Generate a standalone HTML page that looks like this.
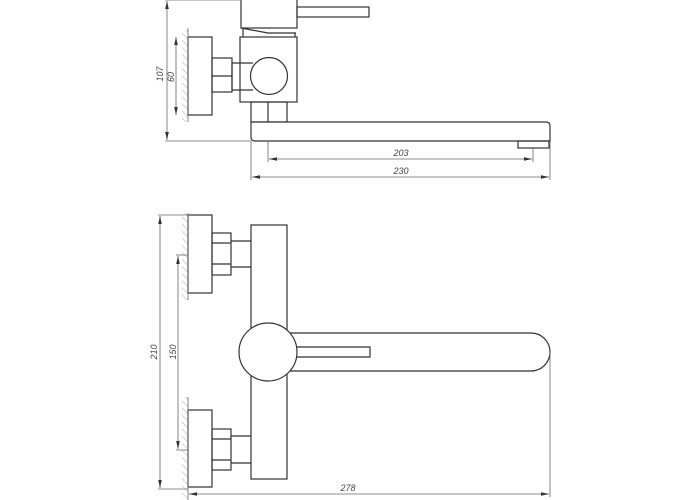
<!DOCTYPE html>
<html><head><meta charset="utf-8"><style>html,body{margin:0;padding:0;background:#fff}svg{display:block}</style></head>
<body>
<svg width="700" height="500" viewBox="0 0 700 500" xmlns="http://www.w3.org/2000/svg">
<defs>
<pattern id="h" patternUnits="userSpaceOnUse" width="5" height="5" patternTransform="rotate(-45)">
<line x1="0" y1="0" x2="0" y2="5" stroke="#999" stroke-width="0.8"/>
</pattern>
<marker id="a" markerWidth="8" markerHeight="6" refX="8" refY="3" orient="auto-start-reverse" markerUnits="userSpaceOnUse">
<path d="M0,1.2 L8,3 L0,4.8 Z" fill="#333"/></marker>
</defs>
<g fill="none" stroke="#333" stroke-width="1.2">
<!-- TOP VIEW -->
<rect x="241" y="-2" width="56" height="30" fill="#fff"/>
<rect x="297" y="7" width="72" height="10"/>
<path d="M241,28 L268,33 L296,33 M243,29 L243,37 M295,33 L295,37"/>
<rect x="240" y="37" width="57" height="65"/>
<circle cx="269" cy="76" r="18.5" fill="#fff"/>
<rect x="188" y="37" width="24" height="78"/>
<rect x="212" y="58" width="20" height="34"/>
<line x1="212" y1="76" x2="232" y2="76"/>
<path d="M232,63 L253,63 M232,90 L253,90 M232,63 L232,90"/>
<rect x="251" y="102" width="36" height="20"/>
<line x1="268" y1="102" x2="268" y2="122"/>
<path d="M251,122 L546,122 Q550,122 550,126 L550,141 L255,141 Q251,141 251,137 Z" fill="#fff"/>
<rect x="518" y="141" width="31" height="7"/>
<!-- BOTTOM VIEW -->
<rect x="188" y="215" width="24" height="78"/>
<rect x="212" y="233" width="19" height="42"/>
<path d="M212,243 L231,243 M212,264 L231,264"/>
<path d="M231,241 L251,241 Q254,254 251,267 L231,267"/>
<rect x="188" y="410" width="24" height="77"/>
<rect x="212" y="429" width="19" height="41"/>
<path d="M212,439 L231,439 M212,460 L231,460"/>
<path d="M231,436 L251,436 Q254,449 251,463 L231,463"/>
<rect x="251" y="225" width="36" height="254" fill="#fff"/>
<path d="M290,333 L531,333 A19,19 0 0 1 531,371 L290,371" fill="#fff"/>
<circle cx="268" cy="352" r="29" fill="#fff"/>
<path d="M297,347 L370,347 L370,357 L297,357"/>
</g>
<!-- hatching & wall lines -->
<g>
<rect x="182" y="30" width="6" height="92" fill="url(#h)"/>
<rect x="182" y="213" width="6" height="87" fill="url(#h)"/>
<rect x="182" y="397" width="6" height="103" fill="url(#h)"/>
</g>
<g stroke="#666" stroke-width="0.8" fill="none">
<line x1="188" y1="28" x2="188" y2="122"/>
<line x1="188" y1="213" x2="188" y2="300"/>
<line x1="188" y1="397" x2="188" y2="500"/>
<!-- dims top -->
<line x1="165" y1="0" x2="241" y2="0"/>
<line x1="165" y1="141" x2="251" y2="141"/>
<line x1="167" y1="1" x2="167" y2="140" marker-start="url(#a)" marker-end="url(#a)"/>
<line x1="176" y1="37" x2="176" y2="115" marker-start="url(#a)" marker-end="url(#a)"/>
<line x1="268" y1="141" x2="268" y2="162"/>
<line x1="533" y1="148" x2="533" y2="162"/>
<line x1="251" y1="141" x2="251" y2="180"/>
<line x1="550" y1="141" x2="550" y2="180"/>
<line x1="269" y1="159" x2="532" y2="159" marker-start="url(#a)" marker-end="url(#a)"/>
<line x1="252" y1="177" x2="549" y2="177" marker-start="url(#a)" marker-end="url(#a)"/>
<!-- dims bottom -->
<line x1="158" y1="215" x2="188" y2="215"/>
<line x1="158" y1="489" x2="188" y2="489"/>
<line x1="176" y1="255" x2="188" y2="255"/>
<line x1="176" y1="450" x2="188" y2="450"/>
<line x1="160" y1="216" x2="160" y2="488" marker-start="url(#a)" marker-end="url(#a)"/>
<line x1="178" y1="256" x2="178" y2="449" marker-start="url(#a)" marker-end="url(#a)"/>
<line x1="550" y1="352" x2="550" y2="497"/>
<line x1="189" y1="494" x2="549" y2="494" marker-start="url(#a)" marker-end="url(#a)"/>
</g>
<g font-family="Liberation Sans, sans-serif" font-size="9" font-style="italic" fill="#444" text-anchor="middle">
<text x="401" y="156">203</text>
<text x="401" y="174">230</text>
<text x="348" y="491">278</text>
<text transform="translate(163,74) rotate(-90)">107</text>
<text transform="translate(174,77) rotate(-90)">60</text>
<text transform="translate(157,352) rotate(-90)">210</text>
<text transform="translate(176,352) rotate(-90)">150</text>
</g>
</svg>
</body></html>
